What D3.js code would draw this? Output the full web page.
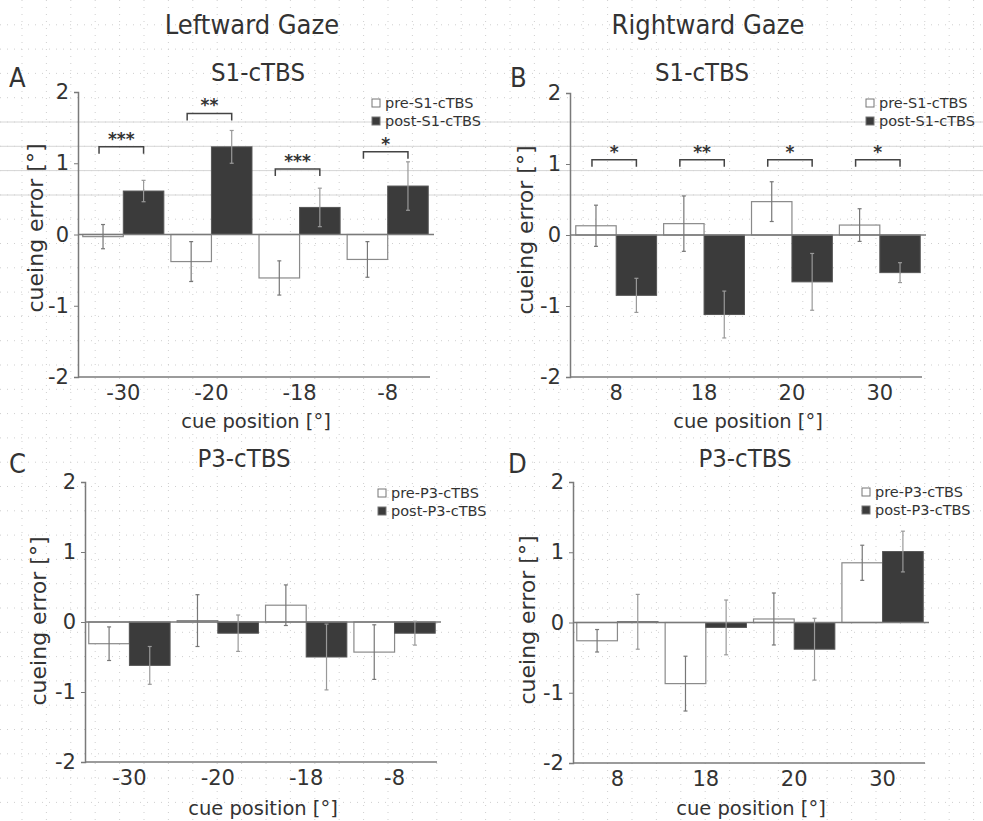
<!DOCTYPE html>
<html><head><meta charset="utf-8">
<script src="https://cdn.jsdelivr.net/npm/d3@7"></script>
<style>
body{margin:0;background:#fff;}
</style></head>
<body><div id="chart"></div>
<script>
// ---------------- data ----------------
const leftCues  = ["-30", "-20", "-18", "-8"];
const rightCues = ["8", "18", "20", "30"];
const yTicks = [-2, -1, 0, 1, 2];

// Panel A: S1-cTBS, leftward gaze
const aPre      = [-0.03, -0.38, -0.61, -0.35];
const aPreErr   = [0.17, 0.28, 0.24, 0.25];
const aPost     = [0.61, 1.23, 0.38, 0.68];
const aPostErr  = [0.15, 0.23, 0.27, 0.34];
const aSig      = ["***", "**", "***", "*"];
const aSigLevel = [1.23, 1.70, 0.92, 1.16];

// Panel B: S1-cTBS, rightward gaze
const bPre      = [0.13, 0.16, 0.47, 0.14];
const bPreErr   = [0.29, 0.39, 0.28, 0.23];
const bPost     = [-0.85, -1.12, -0.66, -0.53];
const bPostErr  = [0.24, 0.33, 0.40, 0.14];
const bSig      = ["*", "**", "*", "*"];
const bSigLevel = [1.06, 1.06, 1.06, 1.06];

// Panel C: P3-cTBS, leftward gaze
const cPre      = [-0.31, 0.02, 0.24, -0.43];
const cPreErr   = [0.24, 0.37, 0.29, 0.39];
const cPost     = [-0.62, -0.16, -0.50, -0.16];
const cPostErr  = [0.27, 0.26, 0.47, 0.17];

// Panel D: P3-cTBS, rightward gaze
const dPre      = [-0.26, -0.87, 0.05, 0.85];
const dPreErr   = [0.16, 0.39, 0.37, 0.25];
const dPost     = [0.01, -0.07, -0.38, 1.01];
const dPostErr  = [0.39, 0.39, 0.44, 0.29];

// ---------------- drawing ----------------
const W = 983, H = 821;
const svg = d3.select("#chart").append("svg").attr("width", W).attr("height", H);
const SANS = "'DejaVu Sans', sans-serif";
const COND = "'DejaVu Sans Condensed', 'DejaVu Sans', sans-serif";
const TXT = "#333";

// faint background grid (scan raster)
const grid = svg.append("g");
for (let x = 22; x < W; x += 24.4) {
  grid.append("line").attr("x1", x).attr("x2", x).attr("y1", 0).attr("y2", H)
    .attr("stroke", "#cfcfcf").attr("stroke-width", 1).attr("stroke-dasharray", "1,6");
}
for (let y = 122 - 24.3 * 4; y < H; y += 24.3) {
  grid.append("line").attr("x1", 0).attr("x2", W).attr("y1", y).attr("y2", y)
    .attr("stroke", "#cfcfcf").attr("stroke-width", 1).attr("stroke-dasharray", "1,6");
}
[122, 146.3, 170.6, 195].forEach(y => {
  grid.append("line").attr("x1", 0).attr("x2", W).attr("y1", y).attr("y2", y)
    .attr("stroke", "#d6d6d6").attr("stroke-width", 1);
});

// column headers
svg.append("text").attr("x", 252).attr("y", 34).attr("text-anchor", "middle")
  .style("font-family", COND).style("font-size", "27px").attr("fill", TXT).text("Leftward Gaze");
svg.append("text").attr("x", 708).attr("y", 34).attr("text-anchor", "middle")
  .style("font-family", COND).style("font-size", "27px").attr("fill", TXT).text("Rightward Gaze");

const POST = "#3b3b3b", PRE_STROKE = "#8a8a8a", AXIS = "#7a7a7a";

function panel(o) {
  const g = svg.append("g");
  const x = d3.scaleBand().domain(o.cues).range([o.x0, o.x1]).paddingInner(0.08).paddingOuter(0.02);
  const y = d3.scaleLinear().domain([-2, 2]).range([o.yBot, o.yTop]);
  const bw = x.bandwidth() / 2;

  // letter and title
  g.append("text").attr("x", o.letterX).attr("y", o.letterY).attr("fill", TXT)
    .style("font-family", COND).style("font-size", "27px").text(o.letter);
  g.append("text").attr("x", o.titleX).attr("y", o.letterY - 6).attr("text-anchor", "middle").attr("fill", TXT)
    .style("font-family", COND).style("font-size", "25.5px").text(o.title);

  // y axis
  const yAxis = d3.axisLeft(y).tickValues(yTicks).tickFormat(d3.format("d")).tickSize(4).tickPadding(5);
  const ya = g.append("g").attr("transform", `translate(${o.axisX},0)`).call(yAxis);
  ya.select(".domain").attr("stroke", AXIS).attr("stroke-width", 1.5);
  ya.selectAll(".tick line").attr("stroke", AXIS);
  ya.selectAll(".tick text").attr("fill", TXT)
    .style("font-family", SANS).style("font-size", "21px")
    .text(d => d < 0 ? "-" + Math.abs(d) : d);

  // x axis at bottom (-2)
  const xAxis = d3.axisBottom(x).tickSize(0).tickPadding(8);
  const xa = g.append("g").attr("transform", `translate(0,${y(-2)})`).call(xAxis);
  xa.select(".domain").attr("stroke", AXIS).attr("stroke-width", 1.5)
    .attr("d", `M${o.axisX},0H${o.x1}`);
  xa.selectAll(".tick text").attr("fill", TXT)
    .style("font-family", SANS).style("font-size", "21px");

  // bars
  const rows = o.cues.map((c, i) => ({c, pre: o.pre[i], preE: o.preErr[i], post: o.post[i], postE: o.postErr[i]}));
  g.selectAll(".pre").data(rows).join("rect")
    .attr("x", d => x(d.c)).attr("width", bw)
    .attr("y", d => y(Math.max(0, d.pre))).attr("height", d => Math.abs(y(d.pre) - y(0)))
    .attr("fill", "#fff").attr("stroke", PRE_STROKE).attr("stroke-width", 1.2);
  g.selectAll(".post").data(rows).join("rect")
    .attr("x", d => x(d.c) + bw).attr("width", bw)
    .attr("y", d => y(Math.max(0, d.post))).attr("height", d => Math.abs(y(d.post) - y(0)))
    .attr("fill", POST).attr("stroke", "#555").attr("stroke-width", 1);

  // zero line
  g.append("line").attr("x1", o.axisX).attr("x2", o.x1 + 4).attr("y1", y(0)).attr("y2", y(0))
    .attr("stroke", AXIS).attr("stroke-width", 1.5);

  // error bars
  const eb = (cx, v, e, col) => {
    g.append("line").attr("x1", cx).attr("x2", cx).attr("y1", y(v - e)).attr("y2", y(v + e))
      .attr("stroke", col).attr("stroke-width", 1.2);
    [v - e, v + e].forEach(t => g.append("line").attr("x1", cx - 2).attr("x2", cx + 2)
      .attr("y1", y(t)).attr("y2", y(t)).attr("stroke", col).attr("stroke-width", 1.2));
  };
  rows.forEach(d => {
    eb(x(d.c) + bw / 2, d.pre, d.preE, "#777");
    eb(x(d.c) + bw * 1.5, d.post, d.postE, "#999");
  });

  // significance brackets
  if (o.sig) {
    rows.forEach((d, i) => {
      const x1 = x(d.c) + bw / 2 - 4, x2 = x(d.c) + bw * 1.5;
      const yy = y(o.sigLevel[i]);
      g.append("path").attr("d", `M${x1},${yy + 7}V${yy}H${x2}V${yy + 7}`)
        .attr("fill", "none").attr("stroke", "#444").attr("stroke-width", 1.5);
      g.append("text").attr("x", (x1 + x2) / 2).attr("y", yy - 2).attr("text-anchor", "middle")
        .attr("fill", TXT).style("font-family", SANS).style("font-size", "17px")
        .style("font-weight", "bold").text(o.sig[i]);
    });
  }

  // legend
  const lg = g.append("g").attr("transform", `translate(${o.legX},${o.legY})`);
  [["pre", "#fff"], ["post", POST]].forEach((p, i) => {
    lg.append("rect").attr("x", 0).attr("y", i * 18 - 9).attr("width", 8).attr("height", 8)
      .attr("fill", p[1]).attr("stroke", "#777");
    lg.append("text").attr("x", 13).attr("y", i * 18).attr("fill", TXT)
      .style("font-family", SANS).style("font-size", "14.5px").text(`${p[0]}-${o.title}`);
  });

  // axis titles
  g.append("text").attr("transform", `translate(${o.ylabX},${o.ylabY}) rotate(-90)`)
    .attr("text-anchor", "middle").attr("fill", TXT)
    .style("font-family", SANS).style("font-size", "22px").text("cueing error [°]");
  g.append("text").attr("x", (o.axisX + o.x1) / 2 + 2).attr("y", o.xlabY).attr("text-anchor", "middle")
    .attr("fill", TXT).style("font-family", SANS).style("font-size", "19.5px").text("cue position [°]");
}

panel({cues: leftCues, pre: aPre, preErr: aPreErr, post: aPost, postErr: aPostErr,
  sig: aSig, sigLevel: aSigLevel, title: "S1-cTBS", letter: "A",
  x0: 81, x1: 430, yTop: 92, yBot: 377, axisX: 78,
  letterX: 9, letterY: 87, titleX: 258, legX: 372, legY: 108,
  ylabX: 43, ylabY: 228, xlabY: 428});
panel({cues: rightCues, pre: bPre, preErr: bPreErr, post: bPost, postErr: bPostErr,
  sig: bSig, sigLevel: bSigLevel, title: "S1-cTBS", letter: "B",
  x0: 574, x1: 922, yTop: 93, yBot: 377, axisX: 570,
  letterX: 510, letterY: 87, titleX: 702, legX: 866, legY: 108,
  ylabX: 533, ylabY: 230, xlabY: 428});
panel({cues: leftCues, pre: cPre, preErr: cPreErr, post: cPost, postErr: cPostErr,
  title: "P3-cTBS", letter: "C",
  x0: 87, x1: 437, yTop: 482, yBot: 762, axisX: 85,
  letterX: 9, letterY: 473, titleX: 244, legX: 378, legY: 498,
  ylabX: 46, ylabY: 621, xlabY: 815});
panel({cues: rightCues, pre: dPre, preErr: dPreErr, post: dPost, postErr: dPostErr,
  title: "P3-cTBS", letter: "D",
  x0: 575, x1: 925, yTop: 482, yBot: 763, axisX: 573,
  letterX: 508, letterY: 473, titleX: 745, legX: 862, legY: 497,
  ylabX: 535, ylabY: 620, xlabY: 815});
</script></body></html>
